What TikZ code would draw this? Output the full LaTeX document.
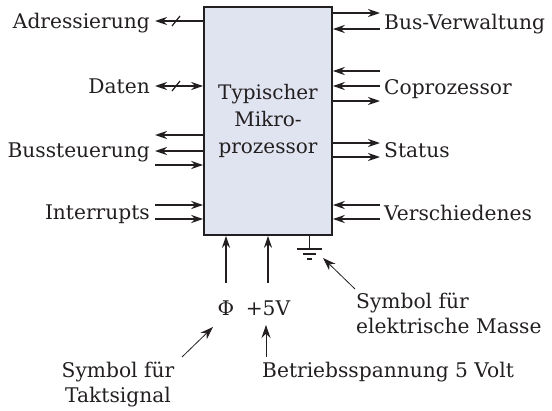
\documentclass[tikz,border=0pt]{standalone}
\usepackage{fontspec}
\setmainfont{DejaVu Serif}
\usetikzlibrary{arrows.meta}
\definecolor{boxfill}{HTML}{E0E4F1}
\definecolor{ink}{HTML}{231F20}
\tikzset{
  sig/.style={line width=1.6pt, draw=ink, arrows={-}},
  tip/.style={-{Stealth[length=12pt,width=8pt]}},
  thin/.style={line width=0.8pt, draw=ink, -{Stealth[length=13pt,width=9pt]}},
  lab/.style={font=\fontsize{20.2}{25}\selectfont, inner sep=0pt, text=ink},
}
\begin{document}
\begin{tikzpicture}[x=1pt,y=-1pt]
\useasboundingbox (0,0) rectangle (552,410);
\node[draw=ink, line width=1.6pt, fill=boxfill, minimum width=128pt, minimum height=228pt, inner sep=0pt,
      font=\fontsize{20}{27}\selectfont, align=center, text=ink] (cpu) at (268,121) {\raisebox{-3pt}{\parbox{120pt}{\centering Typischer\\Mikro-\\prozessor}}};

% left free ends
\coordinate (l1) at (155,21);
\coordinate (l2) at (155,86);
\coordinate (l3) at (155,135);
\coordinate (l4) at (155,151);
\coordinate (l5) at (155,165);
\coordinate (l6) at (155,205);
\coordinate (l7) at (155,219);
% right free ends
\coordinate (r1) at (380,13);
\coordinate (r2) at (380,29);
\coordinate (r3) at (380,71);
\coordinate (r4) at (380,86);
\coordinate (r5) at (380,101);
\coordinate (r6) at (380,143);
\coordinate (r7) at (380,157);
\coordinate (r8) at (380,205);
\coordinate (r9) at (380,219);

\draw[sig,{Stealth[length=12pt,width=8pt]}-] (l1) -- (l1 -| cpu.west);
\draw[sig,{Stealth[length=12pt,width=8pt]}-{Stealth[length=12pt,width=8pt]}] (l2) -- (l2 -| cpu.west);
\draw[sig,{Stealth[length=12pt,width=8pt]}-] (l3) -- (l3 -| cpu.west);
\draw[sig,{Stealth[length=12pt,width=8pt]}-] (l4) -- (l4 -| cpu.west);
\draw[sig,tip] (l5) -- (l5 -| cpu.west);
\draw[sig,tip] (l6) -- (l6 -| cpu.west);
\draw[sig,tip] (l7) -- (l7 -| cpu.west);

\draw[line width=1.2pt, draw=ink] (172,26) -- (180,16);
\draw[line width=1.2pt, draw=ink] (172,91) -- (180,81);

\draw[sig,tip] (r1 -| cpu.east) -- (r1);
\draw[sig,tip] (r2) -- (r2 -| cpu.east);
\draw[sig,tip] (r3) -- (r3 -| cpu.east);
\draw[sig,tip] (r4) -- (r4 -| cpu.east);
\draw[sig,tip] (r5 -| cpu.east) -- (r5);
\draw[sig,tip] (r6 -| cpu.east) -- (r6);
\draw[sig,tip] (r7 -| cpu.east) -- (r7);
\draw[sig,tip] (r8) -- (r8 -| cpu.east);
\draw[sig,tip] (r9) -- (r9 -| cpu.east);

% labels
\node[lab, anchor=base east] (adr) at (150,28) {Adressierung};
\node[lab, anchor=base east] (dat) at (150,93) {Daten};
\node[lab, anchor=base east] (bus) at (150,157) {Bussteuerung};
\node[lab, anchor=base east] (int) at (150,219) {Interrupts};
\node[lab, anchor=base west] (bv) at (384,29) {Bus-Verwaltung};
\node[lab, anchor=base west] (cop) at (384,94) {Coprozessor};
\node[lab, anchor=base west] (sta) at (384,157) {Status};
\node[lab, anchor=base west] (ver) at (384,220) {Verschiedenes};

% bottom inputs
\node[lab, anchor=base] (phi) at (226,315) {Φ};
\node[lab, anchor=base] (vcc) at (268,315) {+5V};
\coordinate (phiin) at (226,283);
\coordinate (vccin) at (268,283);
\draw[sig,tip] (phiin) -- (phiin |- cpu.south);
\draw[sig,tip] (vccin) -- (vccin |- cpu.south);

% ground
\coordinate (gnd) at (309.5,249);
\draw[line width=1.2pt, draw=ink] (gnd |- cpu.south) -- (gnd);
\draw[line width=1.4pt, draw=ink] (297,249) -- (322,249);
\draw[line width=1.4pt, draw=ink] (303,254) -- (316,254);
\draw[line width=1.4pt, draw=ink] (307,259) -- (312,259);

% annotations
\node[lab, anchor=north west, align=left] (masse) at (356,293) {Symbol für\\elektrische Masse};
\draw[thin] (355,289) -- (323,258);
\node[lab, anchor=north, align=center] (takt) at (118,362) {Symbol für\\Taktsignal};
\draw[thin] (182,357) -- (213,327);
\node[lab, anchor=north west] (betr) at (262,362) {Betriebsspannung 5 Volt};
\draw[thin] (266,357) -- (266,325);
\end{tikzpicture}
\end{document}
